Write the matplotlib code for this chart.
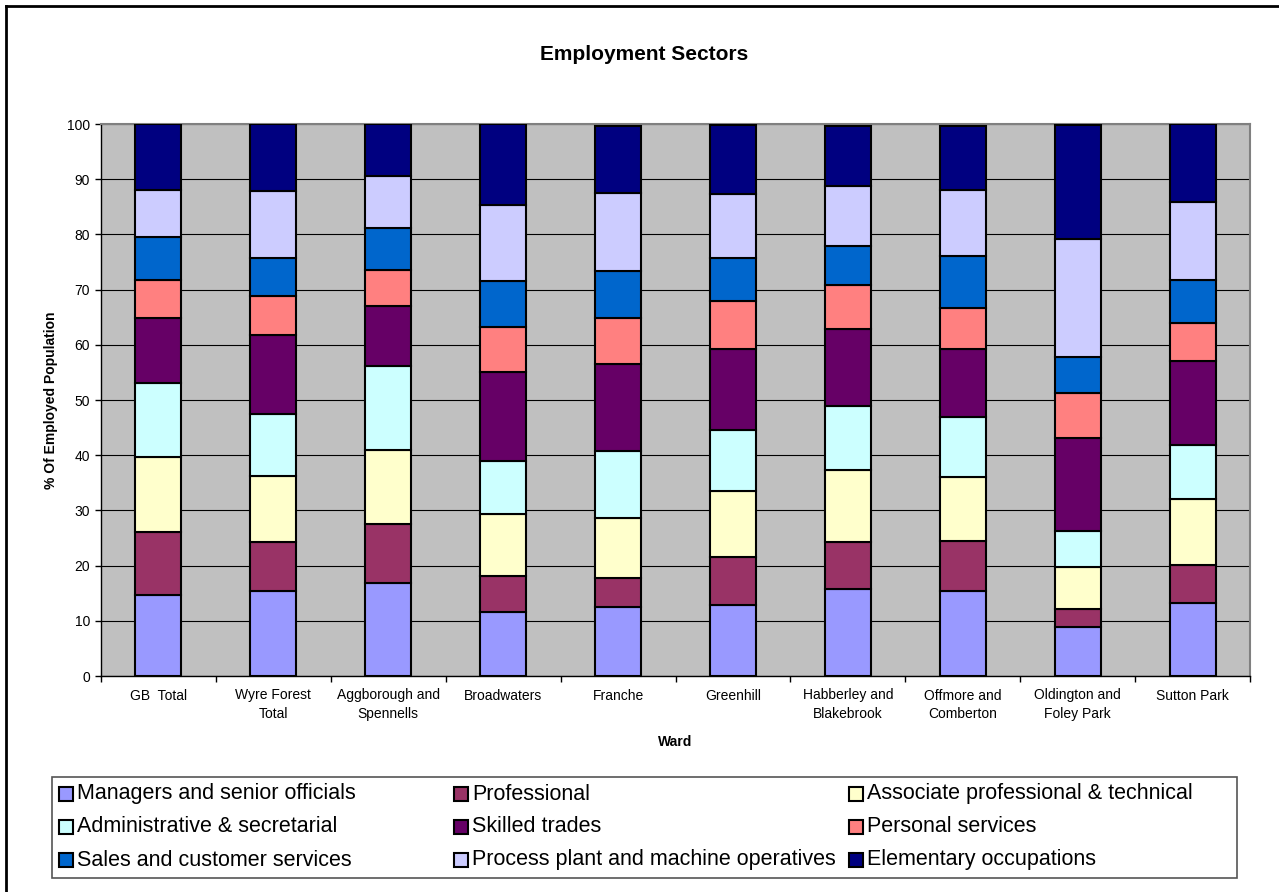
import matplotlib
matplotlib.use("Agg")
import matplotlib.pyplot as plt
from matplotlib.patches import Rectangle
from matplotlib.lines import Line2D
import numpy as np

plt.rcParams["font.family"] = ["Liberation Sans", "DejaVu Sans"]

# ---- data (percent of employed population) ----
wards = ["GB  Total", "Wyre Forest\nTotal", "Aggborough and\nSpennells", "Broadwaters",
         "Franche", "Greenhill", "Habberley and\nBlakebrook", "Offmore and\nComberton",
         "Oldington and\nFoley Park", "Sutton Park"]

managers       = [14.7, 15.4, 16.8, 11.6, 12.5, 12.9, 15.7, 15.4, 8.8, 13.2]
professional   = [11.3, 8.9, 10.8, 6.5, 5.3, 8.7, 8.6, 9.1, 3.4, 6.9]
associate      = [13.7, 11.9, 13.3, 11.2, 10.8, 11.9, 13.0, 11.6, 7.6, 11.9]
administrative = [13.4, 11.2, 15.2, 9.7, 12.1, 11.1, 11.6, 10.8, 6.5, 9.9]
skilled        = [11.8, 14.3, 10.9, 16.0, 15.9, 14.7, 13.9, 12.4, 16.9, 15.1]
personal       = [6.9, 7.1, 6.5, 8.2, 8.2, 8.6, 8.1, 7.4, 8.1, 7.0]
sales          = [7.7, 6.9, 7.7, 8.3, 8.5, 7.8, 7.0, 9.4, 6.5, 7.7]
process        = [8.6, 12.2, 9.3, 13.8, 14.2, 11.6, 10.8, 12.0, 21.4, 14.1]
elementary     = [11.9, 12.1, 9.5, 14.7, 12.2, 12.6, 11.0, 11.6, 20.7, 14.2]

sector_names = ["Managers and senior officials", "Professional",
                "Associate professional & technical", "Administrative & secretarial",
                "Skilled trades", "Personal services", "Sales and customer services",
                "Process plant and machine operatives", "Elementary occupations"]
sector_values = [managers, professional, associate, administrative, skilled,
                 personal, sales, process, elementary]
colors = ["#9999FF", "#993366", "#FFFFCC", "#CCFFFF", "#660066",
          "#FF8080", "#0066CC", "#CCCCFF", "#000080"]

W, H = 1279, 892
fig = plt.figure(figsize=(W / 100, H / 100), dpi=100)

def fx(px):
    return px / W

def fy(py):
    return 1 - py / H

# plot area in pixels: x 101..1250, y 124..676
ax = fig.add_axes([fx(101), fy(676), (1250 - 101) / W, (676 - 124) / H])
ax.set_facecolor("#C0C0C0")

x = np.arange(len(wards))
bottom = np.zeros(len(wards))
for name, vals, col in zip(sector_names, sector_values, colors):
    ax.bar(x, vals, width=0.4, bottom=bottom, color=col, edgecolor="black",
           linewidth=1.5, label=name, zorder=3)
    bottom += np.array(vals)

ax.set_xlim(-0.5, len(wards) - 0.5)
ax.set_ylim(0, 100)
ax.set_yticks(np.arange(0, 101, 10))
ax.yaxis.grid(True, color="black", linewidth=0.8, zorder=1)
ax.set_axisbelow(True)

ax.set_xticks(x)
ax.set_xticklabels(wards, fontsize=10, linespacing=1.45)
ax.set_xticks(np.arange(-0.5, len(wards), 1.0), minor=True)
ax.tick_params(axis="x", which="major", length=0, pad=9)
ax.tick_params(axis="x", which="minor", length=4, width=1, direction="out")
ax.tick_params(axis="y", length=4, width=1, direction="out", labelsize=10, pad=4)

for s in ["left", "bottom"]:
    ax.spines[s].set_color("black")
    ax.spines[s].set_linewidth(1)
for s in ["top", "right"]:
    ax.spines[s].set_color("#808080")
    ax.spines[s].set_linewidth(1.5)

# titles
fig.text(fx(644), fy(54), "Employment Sectors", ha="center", va="center",
         fontsize=15, fontweight="bold")
fig.text(fx(675), fy(742), "Ward", ha="center", va="center", fontsize=10, fontweight="bold")
fig.text(fx(51), fy(400), "% Of Employed Population", ha="center", va="center",
         rotation=90, fontsize=10, fontweight="bold")

# legend box, entries laid out row by row in three equal columns
fig.add_artist(Rectangle((fx(52), fy(878)), (1237 - 52) / W, (878 - 777) / H,
                         transform=fig.transFigure, facecolor="white",
                         edgecolor="#555555", linewidth=1.2))
row_y = [794, 827, 860]
col_x = [59, 454, 849]
for i, (name, col) in enumerate(zip(sector_names, colors)):
    r, c = divmod(i, 3)
    mx, my = col_x[c], row_y[r]
    fig.add_artist(Rectangle((fx(mx), fy(my + 7)), 14 / W, 14 / H,
                             transform=fig.transFigure, facecolor=col,
                             edgecolor="black", linewidth=1.5))
    fig.text(fx(mx + 18), fy(my), name, ha="left", va="center", fontsize=15.5)

# chart area frame (right and bottom edges fall outside the picture)
fig.add_artist(Line2D([fx(6), fx(W + 5)], [fy(6), fy(6)], color="black",
                      linewidth=2, transform=fig.transFigure))
fig.add_artist(Line2D([fx(6), fx(6)], [fy(6), fy(H + 5)], color="black",
                      linewidth=2, transform=fig.transFigure))

fig.savefig("out.png", dpi=100)
